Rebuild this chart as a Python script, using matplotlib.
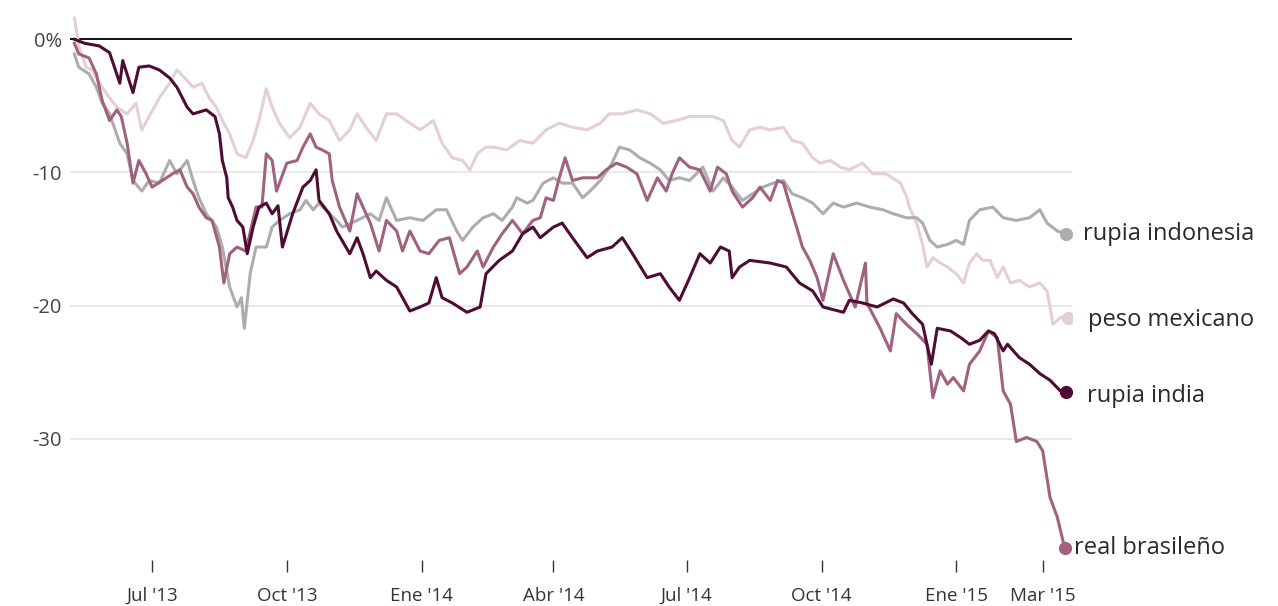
import numpy as np
import matplotlib
matplotlib.use('Agg')
import matplotlib.pyplot as plt

plt.rcParams['font.family'] = ['Open Sans', 'DejaVu Sans']

# dias desde el 9 de mayo de 2013, variacion % frente al dolar
start = np.datetime64('2013-05-09')

india_days = [0, 7, 17, 24, 31, 33, 40, 44, 51, 58, 65, 70, 77, 81, 90, 96, 99, 101, 104, 105,
              108, 111, 115, 118, 122, 126, 131, 135, 139, 142, 149, 156, 161, 165, 167, 174, 179,
              188, 193, 197, 202, 206, 213, 220, 229, 236, 242, 247, 251, 258, 268, 277, 281, 290,
              299, 306, 313, 318, 327, 333, 340, 350, 357, 367, 374, 381, 391, 400, 406, 413, 420,
              427, 434, 441, 447, 449, 454, 461, 475, 486, 495, 504, 511, 525, 529, 538, 548, 559,
              566, 572, 579, 585, 589, 598, 605, 611, 618, 624, 628, 634, 637, 645, 652, 659, 666,
              673, 677]
india_vals = [0.0, -0.3, -0.5, -1.0, -3.3, -1.6, -4.0, -2.1, -2.0, -2.3, -2.9, -3.6, -5.1, -5.6,
              -5.3, -5.8, -7.1, -9.1, -10.4, -11.9, -12.6, -13.6, -14.1, -16.1, -14.1, -12.6, -12.3,
              -13.1, -12.5, -15.6, -13.1, -11.1, -10.6, -9.8, -12.1, -13.1, -14.4, -16.1, -14.9,
              -16.1, -17.9, -17.4, -18.1, -18.6, -20.4, -20.1, -19.8, -17.9, -19.4, -19.8, -20.5,
              -20.1, -17.6, -16.6, -15.9, -14.6, -14.1, -14.9, -14.1, -13.8, -14.9, -16.4, -15.9,
              -15.6, -14.9, -16.1, -17.9, -17.6, -18.6, -19.6, -17.9, -16.1, -16.8, -15.6, -15.9,
              -17.9, -17.1, -16.6, -16.8, -17.1, -18.3, -18.9, -20.1, -20.5, -19.6, -19.8, -20.1,
              -19.5, -19.8, -20.6, -21.4, -24.4, -21.7, -21.9, -22.4, -22.9, -22.6, -21.9, -22.1,
              -23.4, -22.9, -23.9, -24.4, -25.1, -25.6, -26.4, -26.5]

brasil_days = [0, 3, 10, 15, 19, 24, 29, 32, 36, 40, 44, 49, 53, 60, 67, 72, 77, 81, 85, 90, 94,
               99, 102, 106, 111, 117, 124, 128, 131, 135, 138, 145, 152, 156, 161, 165, 169, 174,
               176, 181, 188, 193, 197, 202, 208, 213, 220, 224, 229, 236, 242, 249, 256, 263, 268,
               275, 279, 286, 292, 299, 306, 313, 318, 322, 327, 331, 335, 340, 347, 357, 363, 370,
               377, 384, 391, 398, 404, 408, 413, 420, 427, 434, 439, 445, 449, 456, 463, 468, 475,
               480, 484, 488, 493, 497, 502, 507, 511, 518, 525, 533, 540, 541, 550, 557, 561, 568,
               575, 582, 586, 591, 596, 600, 607, 611, 618, 624, 630, 634, 639, 643, 650, 657, 661,
               666, 671, 676]
brasil_vals = [-0.3, -1.1, -1.4, -2.6, -4.6, -6.1, -5.3, -5.8, -7.8, -10.8, -9.1, -10.1, -11.1,
               -10.6, -10.1, -9.8, -11.1, -11.6, -12.6, -13.4, -13.6, -15.6, -18.3, -16.1, -15.6,
               -15.9, -12.6, -12.6, -8.6, -9.1, -11.4, -9.3, -9.1, -8.1, -7.1, -8.1, -8.3, -8.6,
               -10.6, -12.6, -14.4, -11.6, -12.6, -13.8, -15.9, -13.6, -14.4, -15.9, -14.4, -15.9,
               -16.1, -15.1, -14.9, -17.6, -17.1, -15.9, -17.1, -15.6, -14.6, -13.6, -14.6, -13.6,
               -13.4, -11.9, -12.1, -10.4, -8.9, -10.6, -10.4, -10.4, -9.8, -9.3, -9.6, -10.1,
               -12.1, -10.4, -11.4, -10.1, -8.9, -9.6, -9.8, -11.4, -9.6, -10.1, -11.4, -12.6,
               -11.9, -11.1, -12.1, -10.6, -10.8, -12.3, -14.1, -15.6, -16.6, -17.9, -19.6, -16.1,
               -18.1, -20.1, -16.8, -19.8, -21.7, -23.4, -20.6, -21.4, -22.1, -22.9, -26.9, -24.9,
               -25.9, -25.4, -26.4, -24.4, -23.4, -21.9, -22.4, -26.4, -27.4, -30.2, -29.9, -30.2,
               -30.9, -34.4, -35.9, -38.2]

indonesia_days = [0, 3, 10, 15, 19, 24, 31, 36, 40, 46, 51, 58, 65, 70, 77, 81, 85, 90, 97, 101,
                  106, 111, 114, 116, 120, 124, 131, 135, 140, 147, 154, 158, 163, 167, 174, 179,
                  183, 193, 202, 208, 213, 220, 229, 238, 247, 254, 261, 265, 272, 279, 286, 292,
                  299, 302, 309, 313, 320, 327, 333, 340, 347, 352, 359, 367, 372, 379, 386, 393,
                  400, 406, 413, 420, 429, 436, 443, 449, 456, 463, 470, 477, 484, 490, 497, 504,
                  511, 518, 525, 534, 543, 552, 559, 568, 575, 579, 584, 589, 596, 602, 607, 611,
                  618, 627, 634, 643, 652, 659, 664, 671, 677]
indonesia_vals = [-1.1, -2.1, -2.6, -3.6, -4.8, -5.6, -7.8, -8.6, -10.6, -11.4, -10.6, -10.8,
                  -9.1, -10.1, -9.1, -10.6, -11.9, -13.1, -14.1, -15.6, -18.6, -20.1, -19.4, -21.7,
                  -17.6, -15.6, -15.6, -14.1, -13.6, -13.1, -12.8, -12.1, -12.8, -12.3, -13.1,
                  -13.6, -14.1, -13.6, -13.1, -13.6, -11.9, -13.6, -13.4, -13.6, -12.8, -12.8,
                  -14.4, -15.1, -14.1, -13.4, -13.1, -13.6, -12.6, -11.9, -12.3, -12.1, -10.8,
                  -10.4, -10.8, -10.8, -11.9, -11.4, -10.6, -9.3, -8.1, -8.3, -8.9, -9.3, -9.8,
                  -10.6, -10.4, -10.6, -9.6, -11.4, -10.4, -11.1, -12.1, -11.6, -11.1, -10.8, -10.6,
                  -11.6, -11.9, -12.3, -13.1, -12.3, -12.6, -12.3, -12.6, -12.8, -13.1, -13.4, -13.4,
                  -13.8, -15.1, -15.6, -15.4, -15.1, -15.4, -13.6, -12.8, -12.6, -13.4, -13.6,
                  -13.4, -12.8, -13.8, -14.4, -14.6]

mexico_days = [0, 3, 8, 12, 19, 24, 29, 36, 42, 46, 51, 58, 65, 70, 77, 81, 87, 92, 97, 101, 106,
               111, 117, 122, 126, 131, 135, 140, 147, 154, 161, 167, 174, 181, 188, 193, 199, 206,
               213, 220, 229, 236, 245, 251, 258, 265, 270, 275, 281, 286, 295, 304, 313, 322, 331,
               340, 350, 359, 365, 374, 384, 393, 402, 411, 420, 429, 436, 443, 449, 454, 461, 468,
               475, 484, 490, 497, 504, 509, 516, 523, 529, 538, 545, 554, 564, 568, 570, 575, 579,
               582, 586, 591, 596, 602, 607, 611, 616, 620, 625, 630, 634, 639, 645, 652, 659, 664,
               666, 668, 673, 678]
mexico_vals = [1.6, -0.5, -2.1, -2.3, -3.6, -4.4, -5.1, -5.6, -4.8, -6.8, -5.8, -4.4, -3.3, -2.3,
               -3.1, -3.6, -3.3, -4.4, -5.1, -6.1, -7.1, -8.6, -8.9, -7.6, -6.1, -3.7, -5.1, -6.3,
               -7.4, -6.6, -4.8, -5.6, -6.1, -7.6, -6.8, -5.6, -6.6, -7.6, -5.6, -5.6, -6.3, -6.8,
               -6.1, -7.8, -8.9, -9.1, -9.8, -8.6, -8.1, -8.1, -8.3, -7.6, -7.8, -6.8, -6.3, -6.6,
               -6.8, -6.3, -5.6, -5.6, -5.3, -5.6, -6.3, -6.1, -5.8, -5.8, -5.8, -6.1, -7.6, -8.1,
               -6.8, -6.6, -6.8, -6.6, -7.6, -7.8, -8.9, -9.3, -9.1, -9.6, -9.8, -9.3, -10.1, -10.1,
               -10.8, -11.8, -12.6, -13.8, -15.4, -17.1, -16.4, -16.8, -17.1, -17.6, -18.3, -16.8,
               -16.1, -16.6, -16.6, -17.9, -17.1, -18.3, -18.1, -18.6, -18.3, -18.9, -20.1, -21.4,
               -20.9, -20.9]

tick_dates = ['2013-07-01', '2013-10-01', '2014-01-01', '2014-04-01',
              '2014-07-01', '2014-10-01', '2015-01-01', '2015-03-01']
tick_labels = ["Jul '13", "Oct '13", "Ene '14", "Abr '14", "Jul '14", "Oct '14", "Ene '15", "Mar '15"]

series = [
    ('peso mexicano', mexico_days, mexico_vals, '#e4cfd8', (15, -2)),
    ('rupia indonesia', indonesia_days, indonesia_vals, '#adadad', (12, 0)),
    ('real brasileño', brasil_days, brasil_vals, '#a0627f', (7, 0)),
    ('rupia india', india_days, india_vals, '#4e0c32', (15, -3)),
]

fig = plt.figure(figsize=(12.78, 6.06), dpi=100)
ax = fig.add_axes([70 / 1278, (606 - 572) / 606, (1072 - 70) / 1278, (572 - 10) / 606])

x0 = start - np.timedelta64(3, 'D')
x1 = start + np.timedelta64(681, 'D')
ax.set_xlim(x0, x1)
ax.set_ylim(-40.0, 2.2)

for g in [-10, -20, -30]:
    ax.axhline(g, color='#e2e2e2', lw=1.1, zorder=0)
ax.axhline(0, color='#111111', lw=1.4, zorder=1)

for name, d, v, c, off in series:
    xs = start + np.array(d).astype('timedelta64[D]')
    ax.plot(xs, v, color=c, lw=2.2, zorder=2, solid_joinstyle='round')
    ax.plot(xs[-1], v[-1], 'o', color=c, ms=8.5, zorder=3)
    ax.annotate(name, (xs[-1], v[-1]), xytext=off, textcoords='offset points',
                ha='left', va='center', fontsize=17, color='#2a2a2a')

ax.set_xticks([np.datetime64(t) for t in tick_dates])
ax.set_xticklabels(tick_labels)
ax.tick_params(axis='x', direction='in', length=9, width=1, color='#333333',
               pad=11, labelsize=13.5, labelcolor='#333333')
ax.set_yticks([0, -10, -20, -30])
ax.set_yticklabels(['0%', '-10', '-20', '-30'])
ax.tick_params(axis='y', length=0, pad=6, labelsize=14.5, labelcolor='#444444')

for s in ax.spines.values():
    s.set_visible(False)

fig.savefig('out.png', dpi=100)
